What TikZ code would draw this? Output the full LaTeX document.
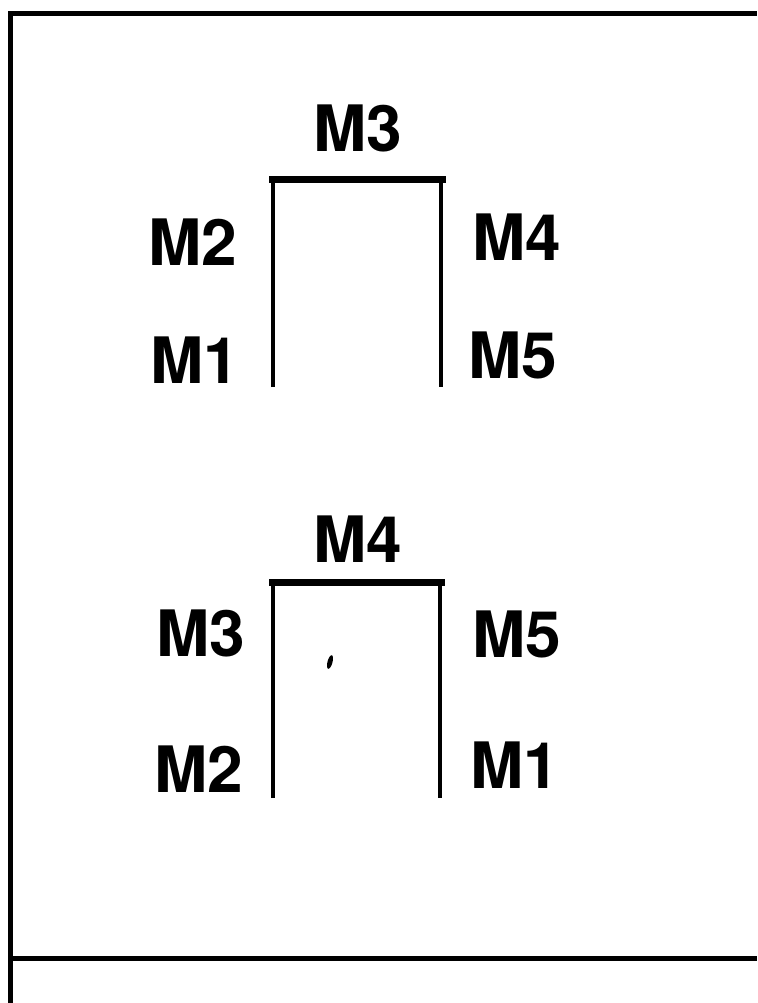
\documentclass[tikz,border=0pt]{standalone}
\usepackage{fontspec}
\setmainfont{TeX Gyre Heros}
\begin{document}
\begin{tikzpicture}[x=1pt,y=-1pt,
  lbl/.style={anchor=base,inner sep=0pt,font=\fontsize{64}{64}\selectfont\bfseries},
  frameline/.style={line width=5pt},
  side/.style={line width=4.8pt},
  topbar/.style={line width=7pt}]
\useasboundingbox (0,0) rectangle (757,1003);
% frame
\coordinate (fbl) at (10,1003);
\coordinate (ftl) at (10,13.5);
\coordinate (ftr) at (757,13.5);
\coordinate (fml) at (10,958);
\coordinate (fmr) at (757,958);
\draw[frameline] (fbl) -- (ftl) -- (ftr);
\draw[frameline] (fml) -- (fmr);
% upper bracket
\coordinate (ua) at (273,387);
\coordinate (ub) at (273,180);
\coordinate (uc) at (441,180);
\coordinate (ud) at (441,387);
\draw[side] (ua) -- (ub);
\draw[side] (uc) -- (ud);
\draw[topbar,line cap=rect] ([xshift=-1pt]ub) -- ([xshift=1pt]uc);
\node[lbl] (u3) at (358,152) {M3};
\node[lbl] (u2) at (193,265) {M2};
\node[lbl] (u4) at (517,260) {M4};
\node[lbl] (u1) at (195,383) {M1};
\node[lbl] (u5) at (513,378) {M5};
% lower bracket
\coordinate (la) at (273,798);
\coordinate (lb) at (273,582);
\coordinate (lc) at (440,582);
\coordinate (ld) at (440,798);
\draw[side] (la) -- (lb);
\draw[side] (lc) -- (ld);
\draw[topbar,line cap=rect] ([xshift=-1pt]lb) -- ([xshift=1pt]lc);
\node[lbl] (l4) at (358,562) {M4};
\node[lbl] (l3) at (201,656) {M3};
\node[lbl] (l5) at (517,657) {M5};
\node[lbl] (l2) at (199,792) {M2};
\node[lbl] (l1) at (515,788) {M1};
% speck
\fill[rotate around={-15:(330,662)}] (330,662) ellipse (2.5 and 7);
\end{tikzpicture}
\end{document}
